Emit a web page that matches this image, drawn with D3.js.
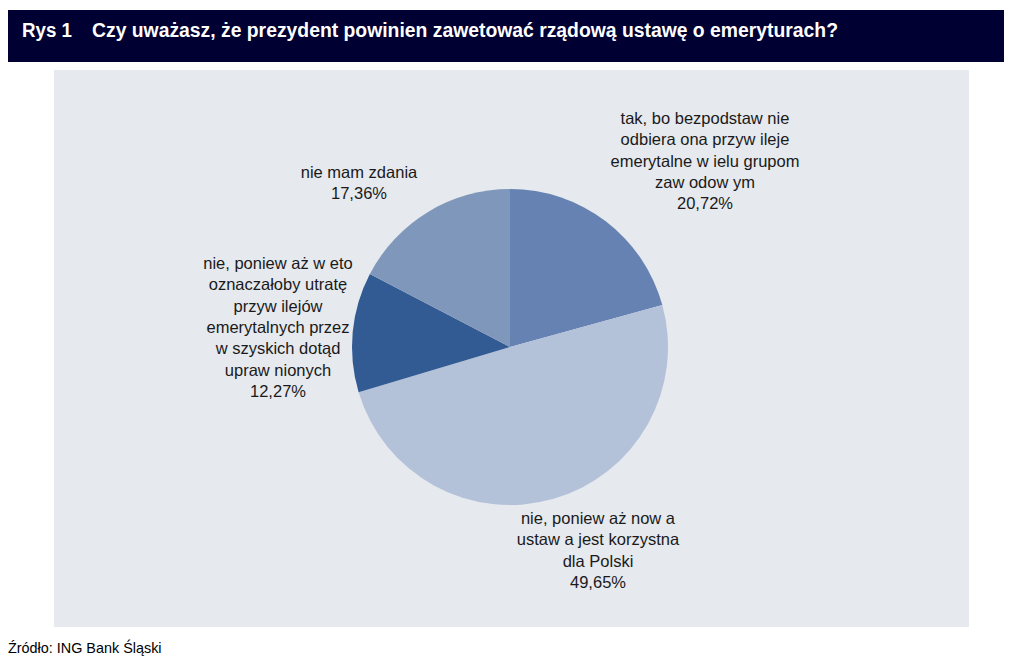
<!DOCTYPE html>
<html>
<head>
<meta charset="utf-8">
<script src="https://cdn.jsdelivr.net/npm/d3@7"></script>
<style>
  body { margin: 0; background: #fff; }
  svg { display: block; font-family: Arial, "Liberation Sans", sans-serif; }
</style>
</head>
<body>
<div id="chart"></div>
<script>
// data
const labels = [
  ['tak, bo bezpodstaw nie', 'odbiera ona przyw ileje', 'emerytalne w ielu grupom', 'zaw odow ym'],
  ['nie, poniew aż now a', 'ustaw a jest korzystna', 'dla Polski'],
  ['nie, poniew aż w eto', 'oznaczałoby utratę', 'przyw ilejów', 'emerytalnych przez', 'w szyskich dotąd', 'upraw nionych'],
  ['nie mam zdania']
];
const values = [20.72, 49.65, 12.27, 17.36];
const colors = ['#6582b3', '#b3c1d9', '#325a93', '#7f97ba'];

// label anchors (centre x, first line y)
const labelPos = [[705, 124], [598, 524], [278, 269], [359, 178]];

const W = 1012, H = 663;
const svg = d3.select('#chart').append('svg')
  .attr('width', W).attr('height', H);

// header bar
svg.append('rect').attr('x', 8).attr('y', 10).attr('width', 996).attr('height', 52)
  .attr('fill', '#000033');
svg.append('text').attr('x', 22).attr('y', 37).attr('fill', '#fff')
  .attr('font-size', 19.5).attr('font-weight', 'bold')
  .attr('textLength', 50).attr('lengthAdjust', 'spacingAndGlyphs').text('Rys 1');
svg.append('text').attr('x', 92).attr('y', 37).attr('fill', '#fff')
  .attr('font-size', 19.5).attr('font-weight', 'bold')
  .attr('textLength', 746).attr('lengthAdjust', 'spacingAndGlyphs')
  .text('Czy uważasz, że prezydent powinien zawetować rządową ustawę o emeryturach?');

// plot panel
svg.append('rect').attr('x', 54).attr('y', 70).attr('width', 915).attr('height', 557)
  .attr('fill', '#e6e9ee');

// pie
const cx = 510, cy = 347, R = 158;
const pie = d3.pie().sort(null).value(d => d)(values);
const arc = d3.arc().innerRadius(0).outerRadius(R);

const g = svg.append('g').attr('transform', 'translate(' + cx + ',' + cy + ')');
g.selectAll('path').data(pie).enter().append('path')
  .attr('d', arc)
  .attr('fill', (d, i) => colors[i]);

// labels
const fmt = v => v.toFixed(2).replace('.', ',') + '%';
labels.forEach((lines, i) => {
  const t = svg.append('text')
    .attr('x', labelPos[i][0]).attr('y', labelPos[i][1])
    .attr('text-anchor', 'middle').attr('font-size', 16.5).attr('fill', '#1a1a1a');
  lines.concat([fmt(values[i])]).forEach((s, k) => {
    t.append('tspan').attr('x', labelPos[i][0]).attr('dy', k == 0 ? 0 : 21.3).text(s);
  });
});

// source
svg.append('text').attr('x', 8).attr('y', 653).attr('font-size', 14.4).attr('fill', '#000')
  .text('Źródło: ING Bank Śląski');
</script>
</body>
</html>
